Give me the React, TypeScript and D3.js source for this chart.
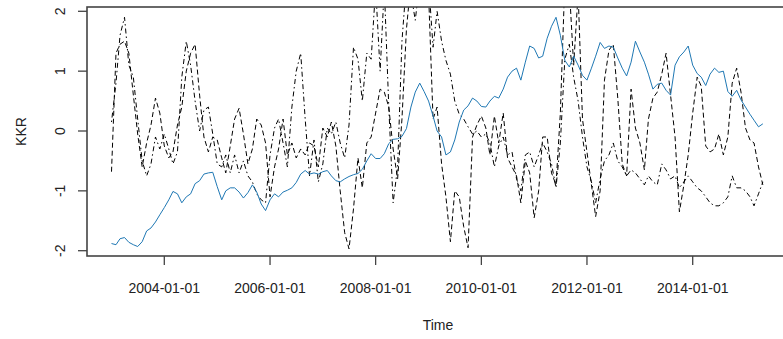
import React from "react";
import * as d3 from "d3";

// monthly observations, first one at 2003-01-01
const startDate = new Date(2003, 0, 1);

const kkr = [
  -1.88, -1.9, -1.8, -1.78, -1.86, -1.9, -1.93, -1.85, -1.67, -1.62, -1.52, -1.4,
  -1.28, -1.15, -1.01, -1.05, -1.2, -1.1, -1.05, -0.88, -0.83, -0.72, -0.7, -0.69,
  -0.93, -1.15, -1.0, -0.95, -0.95, -1.02, -1.12, -1.03, -0.9, -1.02, -1.22, -1.33,
  -1.15, -1.05, -1.1, -1.02, -0.99, -0.95, -0.86, -0.72, -0.66, -0.72, -0.7, -0.72,
  -0.68, -0.66, -0.75, -0.83, -0.85, -0.8, -0.76, -0.73, -0.71, -0.64, -0.5, -0.38,
  -0.46, -0.46, -0.38, -0.21, -0.14, -0.13, -0.09, 0.04, 0.4, 0.65, 0.8, 0.66,
  0.5, 0.25, 0.0, -0.1, -0.4, -0.35, -0.15, 0.15, 0.35, 0.42, 0.55, 0.5,
  0.41, 0.4, 0.5, 0.58, 0.55, 0.7, 0.9, 1.0, 1.05, 0.85, 1.15, 1.42,
  1.38, 1.22, 1.25, 1.55, 1.75, 1.9, 1.6, 1.18, 1.07, 1.25, 1.1, 0.93,
  0.85, 1.05, 1.25, 1.48, 1.38, 1.42, 1.4, 1.22, 1.05, 0.92, 1.15, 1.5,
  1.32, 1.15, 0.95, 0.7, 0.78, 0.8, 0.68, 0.6, 1.1, 1.24, 1.32, 1.42,
  1.1, 0.96, 0.9, 0.76, 0.95, 1.05, 0.98, 1.0, 0.66, 0.58, 0.68, 0.52,
  0.4, 0.28, 0.18, 0.07, 0.12,
];

const seriesDashed = [
  -0.68, 1.3, 1.45, 1.5, 1.3, 0.6, -0.05, -0.6, -0.2, 0.1, 0.55, 0.3,
  -0.25, -0.45, -0.35, 0.1, 0.4, 1.0, 1.3, 1.45, 0.6, -0.1, -0.35, -0.1,
  -0.15, -0.45, -0.7, -0.25, 0.2, 0.38, -0.05, -0.55, -0.3, 0.2, 0.1, -0.2,
  -1.1, -0.6, -0.3, 0.2, -0.4, -0.2, -0.45, -0.3, -0.4, -0.2, -0.25, -0.6,
  0.05, -0.1, 0.15, -0.25, -1.0, -1.7, -1.97, -1.3, -0.45, -0.95, -0.2, -0.1,
  0.3, 0.7, 0.65, 0.4, -0.3, -0.8, 0.2, 1.7, 2.5, 2.6, 2.4, 2.6,
  2.3, 0.2, 0.4, -0.55, -1.1, -1.85, -1.0, -1.1, -1.6, -1.95, -0.1, 0.1,
  0.25, 0.05, -0.4, 0.25, -0.2, 0.3, -0.45, -0.6, -0.75, -1.2, -0.5, -0.7,
  -1.45, -1.0, -0.1, -0.1, -0.7, -0.9, 0.3, 2.5, 2.4, 1.1, 2.3, 0.2,
  -0.35, -0.9, -1.43, -1.0, 0.85, 1.35, 1.45, 0.55, -0.55, -0.75, 0.7, 0.05,
  -0.2, -0.65, 0.2, 0.55, 0.65, 0.95, 1.3, 0.6, -0.1, -1.35, -0.9, -0.4,
  0.3, 0.9, 0.75, -0.25, -0.35, -0.3, -0.05, -0.4, -0.1, 0.8, 1.05, 0.65,
  0.05, -0.15, -0.2, -0.6, -0.9,
];

const seriesDotDash = [
  0.15, 0.8, 1.6, 1.9, 1.1, 0.9, 0.2, -0.5, -0.75, -0.55, -0.1, -0.3,
  -0.05, -0.3, -0.55, -0.35, 0.9, 1.5, 1.1, 0.5, 0.0, 0.35, 0.4, -0.05,
  -0.55, -0.6, -0.4, -0.7, -0.4, -0.7, -0.5, -0.75, -0.85, -1.05, -1.15, -1.2,
  -0.4, 0.05, 0.2, -0.2, -0.6, 0.4, 1.0, 1.3, 0.2, -0.75, -0.15, -0.85,
  -0.55, 0.05, -0.05, 0.15, -0.2, -0.45, 0.1, 1.4, 1.2, 0.5, 1.3, 1.2,
  2.4, 1.0, 2.4, 0.4, -1.2, -0.6, 1.5, 2.5, 2.3, 1.85, 2.5, 2.7,
  2.5, 1.4, 2.0, 1.5, 1.18, 0.95, 0.5, 0.28, 0.2, 0.07, -0.05, 0.0,
  -0.1, -0.05, -0.2, -0.6, -0.25, -0.1, -0.4, -0.35, -0.8, -1.0, -0.4, -0.35,
  -0.6, -0.4, -0.2, -0.35, -0.55, -0.95, -0.2, 1.2, 1.45, 0.9, 0.5, -0.1,
  -0.6, -0.85, -1.2, -0.8, -0.5, -0.4, -0.2, -0.5, -0.6, -0.75, -0.65, -0.7,
  -0.8, -0.9, -0.75, -0.85, -0.9, -0.55, -0.65, -0.8, -0.75, -0.95, -0.85, -0.75,
  -0.85, -0.95, -1.0, -1.1, -1.2, -1.25, -1.25, -1.2, -1.1, -0.75, -0.95, -0.95,
  -1.0, -1.1, -1.25, -1.05, -0.85,
];

const yTicks = [-2, -1, 0, 1, 2];
const xTicks = ["2004-01-01", "2006-01-01", "2008-01-01", "2010-01-01", "2012-01-01", "2014-01-01"];

const W = 783;
const H = 339;
const box = { left: 87, top: 7, right: 790, bottom: 256 };
const font = "'Liberation Sans', Arial, sans-serif";

export default function App() {
  const parse = d3.timeParse("%Y-%m-%d");
  const x = d3
    .scaleTime()
    .domain([new Date(2004, 0, 1), new Date(2014, 0, 1)])
    .range([164.3, 692.7]);
  const y = d3.scaleLinear().domain([-2, 2]).range([250.7, 11.3]);

  const date = (i: number) => d3.timeMonth.offset(startDate, i);
  const line = d3
    .line<number>()
    .x((_, i) => x(date(i)))
    .y((d) => y(d));

  const lines = [
    { values: seriesDashed, color: "#000", dash: "5,3" },
    { values: seriesDotDash, color: "#000", dash: "1.5,3,5,3" },
    { values: kkr, color: "#1f78b4", dash: null },
  ];

  return (
    <svg
      width={W}
      height={H}
      style={{ position: "absolute", left: 0, top: 0, background: "#fff" }}
      fontFamily={font}
    >
      <defs>
        <clipPath id="plot">
          <rect x={box.left} y={box.top} width={box.right - box.left} height={box.bottom - box.top} />
        </clipPath>
      </defs>

      <g clipPath="url(#plot)">
        {lines.map((l, k) => (
          <path
            key={k}
            d={line(l.values) || ""}
            fill="none"
            stroke={l.color}
            strokeWidth={1}
            strokeDasharray={l.dash || undefined}
          />
        ))}
      </g>

      <rect
        x={box.left}
        y={box.top}
        width={box.right - box.left}
        height={box.bottom - box.top}
        fill="none"
        stroke="#444"
        strokeWidth={1.6}
      />

      {/* y axis */}
      <line x1={box.left - 9} x2={box.left - 9} y1={y(-2)} y2={y(2)} stroke="#444" strokeWidth={0} />
      {yTicks.map((t) => (
        <g key={t}>
          <line x1={box.left - 9} x2={box.left} y1={y(t)} y2={y(t)} stroke="#444" strokeWidth={1.3} />
          <text
            transform={`translate(60,${y(t)}) rotate(-90)`}
            textAnchor="middle"
            dominantBaseline="central"
            fontSize={14}
            fill="#222"
          >
            {t}
          </text>
        </g>
      ))}
      <text
        transform={`translate(21,${(box.top + box.bottom) / 2}) rotate(-90)`}
        textAnchor="middle"
        dominantBaseline="central"
        fontSize={14}
        fill="#222"
      >
        KKR
      </text>

      {/* x axis */}
      {xTicks.map((t) => {
        const px = x(parse(t) as Date);
        return (
          <g key={t}>
            <line x1={px} x2={px} y1={box.bottom} y2={box.bottom + 9} stroke="#444" strokeWidth={1.3} />
            <text x={px} y={288} textAnchor="middle" dominantBaseline="central" fontSize={14} fill="#222">
              {t}
            </text>
          </g>
        );
      })}
      <text x={438} y={325} textAnchor="middle" dominantBaseline="central" fontSize={14} fill="#222">
        Time
      </text>
    </svg>
  );
}
